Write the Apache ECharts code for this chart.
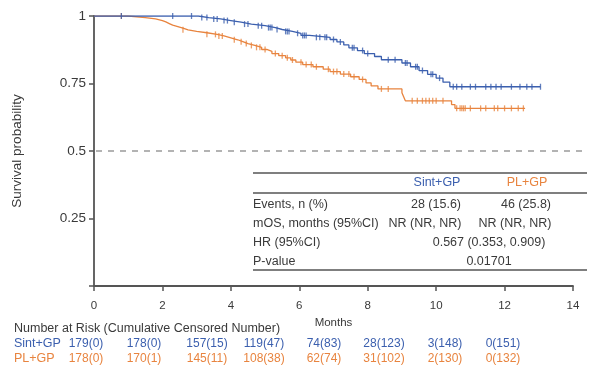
<!DOCTYPE html>
<html>
<head>
<meta charset="utf-8">
<script src="https://cdn.jsdelivr.net/npm/echarts@6/dist/echarts.min.js"></script>
<style>
  html, body { margin: 0; padding: 0; background: #fff; }
  #chart { width: 611px; height: 371px; }
</style>
</head>
<body>
<div id="chart"></div>
<script>
// Kaplan-Meier overall survival, Sint+GP vs PL+GP

const monthTicks = [0, 2, 4, 6, 8, 10, 12, 14];
const survivalTicks = [0.25, 0.5, 0.75, 1];
const medianLevel = 0.5;

// event times (months) and survival after each event
const sintSteps = [
  [3.05, 0.994], [3.35, 0.989], [3.7, 0.983], [4.0, 0.977], [4.3, 0.970],
  [4.6, 0.964], [5.0, 0.957], [5.3, 0.950], [5.5, 0.943], [5.8, 0.936],
  [6.05, 0.928], [6.3, 0.921], [6.9, 0.913], [7.1, 0.904], [7.3, 0.893],
  [7.45, 0.882], [7.7, 0.872], [7.9, 0.861], [8.2, 0.850], [8.4, 0.838],
  [9.0, 0.826], [9.25, 0.812], [9.5, 0.798], [9.75, 0.784], [10.0, 0.770],
  [10.2, 0.755], [10.4, 0.738]
];
const sintEnd = 13.05;
const sintCensored = [
  0.8, 2.3, 2.85, 3.15, 3.3, 3.5, 3.6, 3.8, 3.9, 4.1, 4.4, 4.5, 4.8, 4.9, 5.1,
  5.15, 5.2, 5.35, 5.6, 5.65, 5.7, 5.95, 6.1, 6.15, 6.2, 6.5, 6.6, 6.75, 6.8,
  7.0, 7.2, 7.55, 7.6, 7.85, 8.0, 8.6, 8.8, 9.1, 9.15, 9.4, 9.45, 9.6, 9.85,
  9.9, 10.1, 10.5, 10.6, 10.75, 11.0, 11.15, 11.45, 11.6, 11.75, 11.9, 12.2,
  12.45, 12.65, 12.8, 13.05
];

const plSteps = [
  [1.0, 0.994], [1.5, 0.989], [1.8, 0.983], [2.0, 0.978], [2.1, 0.972],
  [2.2, 0.966], [2.3, 0.961], [2.45, 0.955], [2.6, 0.949], [2.75, 0.943],
  [3.0, 0.938], [3.3, 0.932], [3.6, 0.926], [3.8, 0.919], [4.0, 0.912],
  [4.2, 0.905], [4.35, 0.898], [4.5, 0.891], [4.7, 0.884], [4.9, 0.876],
  [5.05, 0.869], [5.2, 0.861], [5.4, 0.853], [5.6, 0.845], [5.75, 0.837],
  [5.9, 0.829], [6.1, 0.820], [6.4, 0.812], [6.7, 0.803], [6.9, 0.794],
  [7.2, 0.785], [7.5, 0.775], [7.75, 0.765], [7.95, 0.752], [8.1, 0.741],
  [8.3, 0.730], [9.0, 0.716], [9.05, 0.701], [9.1, 0.686], [10.45, 0.672],
  [10.55, 0.658]
];
const plEnd = 12.6;
const plCensored = [
  0.8, 2.6, 3.3, 3.55, 3.65, 3.75, 4.1, 4.3, 4.45, 4.6, 4.75, 4.85, 5.0, 5.3,
  5.5, 5.65, 5.8, 6.05, 6.2, 6.35, 6.5, 6.85, 7.0, 7.1, 7.3, 7.45, 7.6, 7.85,
  8.4, 8.6, 9.3, 9.45, 9.6, 9.7, 9.8, 9.9, 10.0, 10.2, 10.6, 10.7, 10.75,
  10.8, 10.85, 11.0, 11.3, 11.45, 11.7, 11.8, 12.0, 12.2, 12.4, 12.55
];

// summary table
const tableHeader = ['Sint+GP', 'PL+GP'];
const tableRows = [
  ['Events, n (%)', '28 (15.6)', '46 (25.8)'],
  ['mOS, months (95%CI)', 'NR (NR, NR)', 'NR (NR, NR)'],
  ['HR (95%CI)', '0.567 (0.353, 0.909)'],
  ['P-value', '0.01701']
];

// number at risk (cumulative censored)
const riskTitle = 'Number at Risk (Cumulative Censored Number)';
const sintRisk = ['179(0)', '178(0)', '157(15)', '119(47)', '74(83)', '28(123)', '3(148)', '0(151)'];
const plRisk = ['178(0)', '170(1)', '145(11)', '108(38)', '62(74)', '31(102)', '2(130)', '0(132)'];

const BLUE = '#3b5fae';
const ORANGE = '#e8843f';
const TEXT = '#3a3a3a';
const FONT = 'Liberation Sans, Arial, sans-serif';

function curve(steps, end) {
  const pts = [[0, 1]];
  steps.forEach(s => pts.push([s[0], s[1]]));
  pts.push([end, steps[steps.length - 1][1]]);
  return pts;
}
function survAt(steps, t) {
  let s = 1;
  for (const st of steps) { if (st[0] <= t) s = st[1]; }
  return s;
}
function ticks(steps, times) {
  return times.map(t => [t, survAt(steps, t)]);
}

const chart = echarts.init(document.getElementById('chart'));

// layout of the summary table and the risk table (pixels)
const tableLeft = 253, tableRight = 587;
const colA = [436, 425], colB = [526, 515], colSpan = 489;
const rowY = [205, 224, 243, 262];
const TABLE_FS = 12.5;

const graphics = [];
function line(x1, y1, x2, y2, w) {
  graphics.push({ type: 'line', shape: { x1, y1, x2, y2 }, style: { stroke: '#555', lineWidth: w || 1.5 }, silent: true });
}
function text(x, y, str, color, align, size) {
  graphics.push({
    type: 'text', x, y, silent: true,
    style: { text: str, fill: color, font: (size || 11) + 'px ' + FONT, textAlign: align || 'left', textVerticalAlign: 'middle' }
  });
}
line(tableLeft, 173, tableRight, 173);
line(tableLeft, 193, tableRight, 193);
line(tableLeft, 270, tableRight, 270);
text(437, 183, tableHeader[0], BLUE, 'center', TABLE_FS);
text(527, 183, tableHeader[1], ORANGE, 'center', TABLE_FS);
tableRows.forEach((r, i) => {
  text(tableLeft, rowY[i], r[0], TEXT, 'left', TABLE_FS);
  if (r.length === 3) {
    text(colA[i], rowY[i], r[1], TEXT, 'center', TABLE_FS);
    text(colB[i], rowY[i], r[2], TEXT, 'center', TABLE_FS);
  } else {
    text(colSpan, rowY[i], r[1], TEXT, 'center', TABLE_FS);
  }
});

text(14, 329, riskTitle, TEXT, 'left', 12.5);
text(14, 344, 'Sint+GP', BLUE, 'left', 12.5);
text(14, 359, 'PL+GP', ORANGE, 'left', 12.5);
const riskX = [86, 144, 207, 264, 324, 384, 445, 503];
sintRisk.forEach((v, i) => text(riskX[i], 344, v, BLUE, 'center', 12));
plRisk.forEach((v, i) => text(riskX[i], 359, v, ORANGE, 'center', 12));

chart.setOption({
  animation: false,
  backgroundColor: '#fff',
  grid: { left: 94, right: 38, top: 16, bottom: 85 },
  xAxis: {
    type: 'value', min: 0, max: 14, interval: 2,
    name: 'Months', nameLocation: 'middle', nameGap: 27,
    nameTextStyle: { color: TEXT, fontSize: 11.5, fontFamily: FONT },
    axisLine: { lineStyle: { color: '#555', width: 1.8 } },
    axisTick: { length: 5, lineStyle: { color: '#555', width: 1.5 } },
    axisLabel: { color: TEXT, fontSize: 11.5, fontFamily: FONT, margin: 14,
      formatter: v => monthTicks.includes(v) ? String(v) : '' },
    splitLine: { show: false }
  },
  yAxis: {
    type: 'value', min: 0, max: 1, interval: 0.25,
    name: 'Survival probability', nameLocation: 'middle', nameGap: 70,
    nameTextStyle: { color: TEXT, fontSize: 13.5, fontFamily: FONT },
    axisLine: { show: true, lineStyle: { color: '#555', width: 1.8 } },
    axisTick: { show: true, length: 5, lineStyle: { color: '#555', width: 1.5 },
      interval: (i, v) => survivalTicks.includes(Number(v)) },
    axisLabel: { color: TEXT, fontSize: 13.5, fontFamily: FONT, margin: 8,
      formatter: v => survivalTicks.includes(v) ? String(v) : '' },
    splitLine: { show: false }
  },
  graphic: graphics,
  series: [
    {
      name: 'PL+GP', type: 'line', step: 'end', data: curve(plSteps, plEnd),
      symbol: 'none', lineStyle: { color: ORANGE, width: 1.3 }, z: 3
    },
    {
      name: 'PL+GP censored', type: 'scatter', data: ticks(plSteps, plCensored),
      symbol: 'rect', symbolSize: [1.3, 6], itemStyle: { color: ORANGE }, z: 3
    },
    {
      name: 'Sint+GP', type: 'line', step: 'end', data: curve(sintSteps, sintEnd),
      symbol: 'none', lineStyle: { color: BLUE, width: 1.3 }, z: 4
    },
    {
      name: 'Sint+GP censored', type: 'scatter', data: ticks(sintSteps, sintCensored),
      symbol: 'rect', symbolSize: [1.3, 6], itemStyle: { color: BLUE }, z: 4
    }
  ]
});

// dashed median reference line, running past the axis end to the table edge
const p0 = chart.convertToPixel({ gridIndex: 0 }, [0, medianLevel]);
graphics.push({
  type: 'line', silent: true, z: 1,
  shape: { x1: p0[0] + 2, y1: p0[1], x2: tableRight, y2: p0[1] },
  style: { stroke: '#9a9a9a', lineWidth: 1.5, lineDash: [6, 6] }
});
chart.setOption({ graphic: graphics });
</script>
</body>
</html>
